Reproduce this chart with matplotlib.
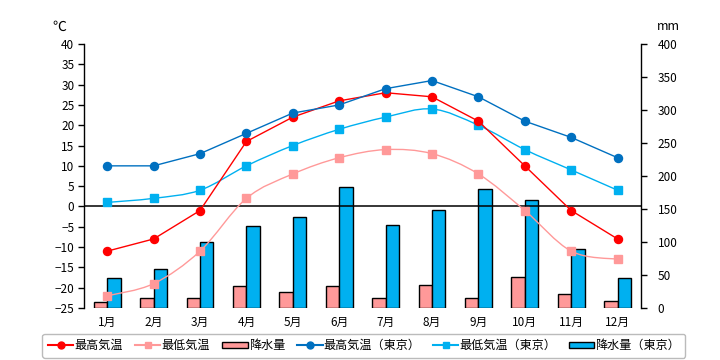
import numpy as np
import matplotlib
matplotlib.use('Agg')
import matplotlib.pyplot as plt
from matplotlib.path import Path
from matplotlib.patches import PathPatch
from matplotlib.lines import Line2D
from matplotlib.patches import Patch

plt.rcParams['font.family'] = ['Noto Sans CJK JP', 'DejaVu Sans']

# データ
months = ['1月', '2月', '3月', '4月', '5月', '6月', '7月', '8月', '9月', '10月', '11月', '12月']
t_max = [-11, -8, -1, 16, 22, 26, 28, 27, 21, 10, -1, -8]
t_min = [-22, -19, -11, 2, 8, 12, 14, 13, 8, -1, -11, -13]
rain = [9, 15, 15, 33, 24, 33, 15, 35, 15, 47, 21, 11]
tokyo_max = [10, 10, 13, 18, 23, 25, 29, 31, 27, 21, 17, 12]
tokyo_min = [1, 2, 4, 10, 15, 19, 22, 24, 20, 14, 9, 4]
tokyo_rain = [45, 59, 100, 124, 138, 184, 126, 148, 180, 164, 89, 45]

C_RED = '#FF0000'
C_PINK = '#FF9999'
C_NAVY = '#0070C0'
C_SKY = '#00B0F0'


def smooth_path(x, y):
    """Excel風のスムージング線（ベジェ）"""
    x = np.asarray(x, float)
    y = np.asarray(y, float)
    n = len(x)
    verts = [(x[0], y[0])]
    codes = [Path.MOVETO]
    for i in range(n - 1):
        i0 = max(i - 1, 0)
        i3 = min(i + 2, n - 1)
        c1 = (x[i] + (x[i + 1] - x[i0]) / 6, y[i] + (y[i + 1] - y[i0]) / 6)
        c2 = (x[i + 1] - (x[i3] - x[i]) / 6, y[i + 1] - (y[i3] - y[i]) / 6)
        verts += [c1, c2, (x[i + 1], y[i + 1])]
        codes += [Path.CURVE4] * 3
    return Path(verts, codes)


fig = plt.figure(figsize=(7.2, 3.6), dpi=100)
ax = fig.add_axes([0.1167, 0.1444, 0.7733, 0.7334])
ax2 = ax.twinx()
ax.set_zorder(ax2.get_zorder() + 1)
ax.patch.set_visible(False)
ax2.set_facecolor('#FFFFCC')

x = np.arange(len(months))
w = 0.29
ax2.bar(x - w / 2, rain, w, color=C_PINK, edgecolor='black', linewidth=1)
ax2.bar(x + w / 2, tokyo_rain, w, color=C_SKY, edgecolor='black', linewidth=1)

ax.axhline(0, color='black', linewidth=1.1, zorder=1)

ax.plot(x, t_max, color=C_RED, linewidth=1, marker='o', markersize=5.8, zorder=4)
ax.add_patch(PathPatch(smooth_path(x, t_min), facecolor='none', edgecolor=C_PINK, linewidth=1, zorder=3))
ax.plot(x, t_min, linestyle='none', marker='s', color=C_PINK, markersize=5.3, zorder=3)
ax.plot(x, tokyo_max, color=C_NAVY, linewidth=1, marker='o', markersize=5.8, zorder=4)
ax.add_patch(PathPatch(smooth_path(x, tokyo_min), facecolor='none', edgecolor=C_SKY, linewidth=1, zorder=3))
ax.plot(x, tokyo_min, linestyle='none', marker='s', color=C_SKY, markersize=5.3, zorder=3)

ax.set_xlim(-0.5, 11.5)
ax.set_ylim(-25, 40)
ax.set_yticks(range(-25, 41, 5))
ax2.set_ylim(0, 400)
ax2.set_yticks(range(0, 401, 50))
ax.set_xticks(x)
ax.set_xticklabels(months)
ax.tick_params(axis='x', length=0, pad=6, labelsize=8.5)
ax.tick_params(axis='y', length=4, width=1, labelsize=8.5, pad=3)
ax2.tick_params(axis='y', length=4, width=1, labelsize=8.5, pad=8)

for a in (ax, ax2):
    a.spines['top'].set_visible(False)
    a.spines['bottom'].set_visible(False)
ax2.spines['left'].set_visible(False)
ax.spines['right'].set_visible(False)
ax.spines['left'].set_linewidth(1)
ax2.spines['right'].set_linewidth(1)

fig.text(0.073, 0.925, '℃', fontsize=10, ha='left', va='center')
fig.text(0.912, 0.925, 'mm', fontsize=9, ha='left', va='center')

handles = [
    Line2D([], [], color=C_RED, marker='o', markersize=5),
    Line2D([], [], color=C_PINK, marker='s', markersize=5),
    Patch(facecolor=C_PINK, edgecolor='black'),
    Line2D([], [], color=C_NAVY, marker='o', markersize=5),
    Line2D([], [], color=C_SKY, marker='s', markersize=5),
    Patch(facecolor=C_SKY, edgecolor='black'),
]
labels = ['最高気温', '最低気温', '降水量', '最高気温（東京）', '最低気温（東京）', '降水量（東京）']
leg = fig.legend(handles, labels, loc='center', bbox_to_anchor=(0.5055, 0.04), ncol=6,
                 fontsize=8.7, frameon=True, fancybox=True, edgecolor='#AAAAAA',
                 handlelength=2.1, handleheight=0.4, handletextpad=0.1, columnspacing=1.0,
                 borderpad=0.45, borderaxespad=0)
leg.get_frame().set_linewidth(1)

fig.savefig('out.png', dpi=100)
